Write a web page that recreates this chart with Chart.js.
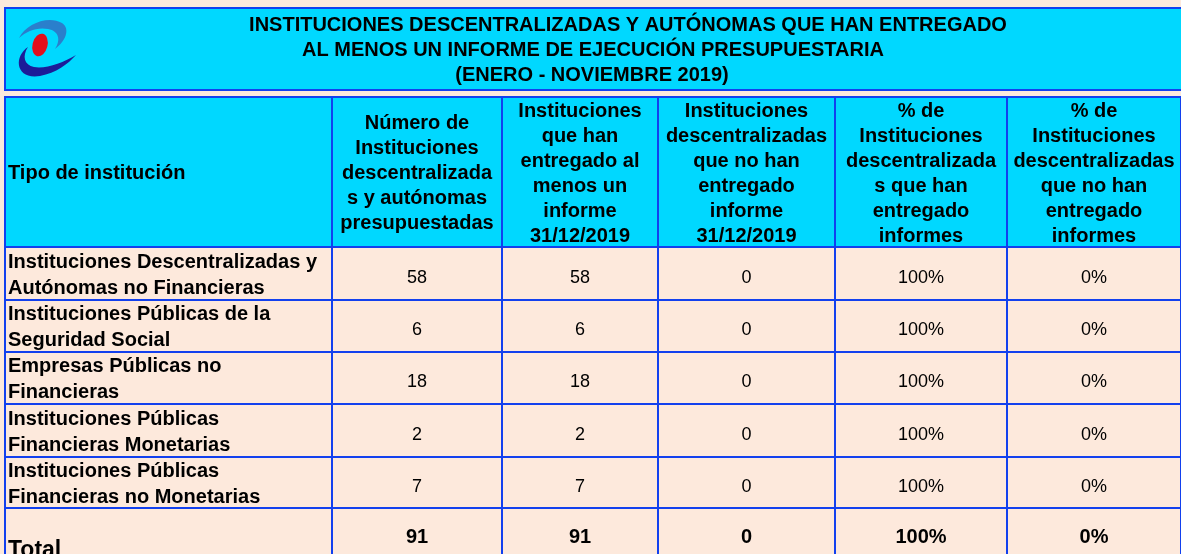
<!DOCTYPE html>
<html>
<head>
<meta charset="utf-8">
<script src="https://cdn.jsdelivr.net/npm/chart.js@4/dist/chart.umd.min.js"></script>
<style>
  html, body { margin: 0; padding: 0; background: #fde9dc; }
  canvas { display: block; }
</style>
</head>
<body>
<canvas id="tabla" width="1181" height="554"></canvas>
<script>
// datos de la tabla
const titulo = [
    'INSTITUCIONES DESCENTRALIZADAS Y AUTÓNOMAS QUE HAN ENTREGADO',
    'AL MENOS UN INFORME DE EJECUCIÓN PRESUPUESTARIA',
    '(ENERO - NOVIEMBRE 2019)'
];
const encabezados = [
    ['Tipo de institución'],
    ['Número de', 'Instituciones', 'descentralizada', 's y autónomas', 'presupuestadas'],
    ['Instituciones', 'que han', 'entregado al', 'menos un', 'informe', '31/12/2019'],
    ['Instituciones', 'descentralizadas', 'que no han', 'entregado', 'informe', '31/12/2019'],
    ['% de', 'Instituciones', 'descentralizada', 's que han', 'entregado', 'informes'],
    ['% de', 'Instituciones', 'descentralizadas', 'que no han', 'entregado', 'informes']
];
const tipos = [
    ['Instituciones Descentralizadas y', 'Autónomas no Financieras'],
    ['Instituciones Públicas de la', 'Seguridad Social'],
    ['Empresas Públicas no', 'Financieras'],
    ['Instituciones Públicas', 'Financieras Monetarias'],
    ['Instituciones Públicas', 'Financieras no Monetarias']
];
const presupuestadas = [58, 6, 18, 2, 7];
const entregaron = [58, 6, 18, 2, 7];
const noEntregaron = [0, 0, 0, 0, 0];
const pctEntregaron = [100, 100, 100, 100, 100];
const pctNoEntregaron = [0, 0, 0, 0, 0];
const totales = [91, 91, 0, 100, 0];

// disposicion (en unidades de las escalas)
const colBordes = [5, 332, 502, 658, 835, 1007, 1181];
const filaBordes = [97, 247, 300, 352, 404, 457, 508, 580];
const tituloArriba = 8, tituloAbajo = 90;
const tituloCentros = [628, 593, 592];

const AZUL = '#1240ee';
const CIAN = '#00d8ff';
const FUENTE = '"Liberation Sans", Arial, sans-serif';

function logo(ctx, X, Y) {
    // arco superior (azul claro)
    ctx.fillStyle = '#2a7fcc';
    ctx.beginPath();
    ctx.moveTo(X(19), Y(38));
    ctx.bezierCurveTo(X(26), Y(24), X(48), Y(15), X(62), Y(23));
    ctx.bezierCurveTo(X(71), Y(29), X(65), Y(42), X(55), Y(49));
    ctx.bezierCurveTo(X(61), Y(40), X(59), Y(31), X(48), Y(29));
    ctx.bezierCurveTo(X(37), Y(27), X(27), Y(31), X(19), Y(38));
    ctx.closePath();
    ctx.fill();
    // arco inferior (azul oscuro)
    ctx.fillStyle = '#1c1c98';
    ctx.beginPath();
    ctx.moveTo(X(28), Y(47));
    ctx.bezierCurveTo(X(13), Y(57), X(16), Y(80), X(40), Y(76));
    ctx.bezierCurveTo(X(56), Y(73), X(68), Y(64), X(76), Y(55));
    ctx.bezierCurveTo(X(63), Y(63), X(46), Y(69), X(34), Y(67));
    ctx.bezierCurveTo(X(24), Y(65), X(22), Y(56), X(28), Y(47));
    ctx.closePath();
    ctx.fill();
    // punto rojo
    ctx.fillStyle = '#e30f1c';
    ctx.beginPath();
    ctx.ellipse(X(40), Y(45), 7.5, 11.5, 0.25, 0, Math.PI * 2);
    ctx.fill();
}

const tablaPlugin = {
    id: 'tabla',
    afterDraw(chart) {
        const ctx = chart.ctx;
        const sx = chart.scales.x, sy = chart.scales.y;
        const X = v => sx.getPixelForValue(v);
        const Y = v => sy.getPixelForValue(v);
        const izq = X(colBordes[0]), der = X(colBordes[colBordes.length - 1]);

        ctx.save();
        // titulo
        ctx.fillStyle = CIAN;
        ctx.fillRect(izq, Y(tituloArriba), der + 10 - izq, Y(tituloAbajo) - Y(tituloArriba));
        ctx.strokeStyle = AZUL;
        ctx.lineWidth = 2;
        ctx.strokeRect(izq, Y(tituloArriba), der + 10 - izq, Y(tituloAbajo) - Y(tituloArriba));
        logo(ctx, X, Y);

        ctx.fillStyle = '#000';
        ctx.textAlign = 'center';
        ctx.textBaseline = 'alphabetic';
        ctx.font = 'bold 20px ' + FUENTE;
        titulo.forEach((t, i) => ctx.fillText(t, X(tituloCentros[i]), Y(31 + i * 25)));

        // encabezado
        ctx.fillStyle = CIAN;
        ctx.fillRect(izq, Y(filaBordes[0]), der + 10 - izq, Y(filaBordes[1]) - Y(filaBordes[0]));

        // lineas
        ctx.strokeStyle = AZUL;
        ctx.lineWidth = 2;
        ctx.beginPath();
        filaBordes.forEach(f => { ctx.moveTo(izq - 1, Y(f)); ctx.lineTo(der + 10, Y(f)); });
        colBordes.forEach(c => { ctx.moveTo(X(c), Y(filaBordes[0])); ctx.lineTo(X(c), Y(filaBordes[filaBordes.length - 1])); });
        ctx.stroke();

        // textos del encabezado
        ctx.fillStyle = '#000';
        ctx.font = 'bold 20px ' + FUENTE;
        const hc = (filaBordes[0] + filaBordes[1]) / 2;
        encabezados.forEach((lineas, c) => {
            const n = lineas.length;
            lineas.forEach((l, k) => {
                const yb = hc - (n - 1) * 25 / 2 + 7 + k * 25;
                if (c === 0) {
                    ctx.textAlign = 'left';
                    ctx.fillText(l, X(colBordes[0] + 3), Y(yb));
                } else {
                    ctx.textAlign = 'center';
                    ctx.fillText(l, X((colBordes[c] + colBordes[c + 1]) / 2), Y(yb));
                }
            });
        });

        // filas de datos
        const columnas = [presupuestadas, entregaron, noEntregaron, pctEntregaron, pctNoEntregaron];
        const esPct = [false, false, false, true, true];
        tipos.forEach((lineas, r) => {
            const cy = (filaBordes[r + 1] + filaBordes[r + 2]) / 2;
            ctx.font = 'bold 20px ' + FUENTE;
            ctx.textAlign = 'left';
            lineas.forEach((l, k) => ctx.fillText(l, X(colBordes[0] + 3), Y(cy - 13 + 7 + k * 26)));
            ctx.font = '18px ' + FUENTE;
            ctx.textAlign = 'center';
            columnas.forEach((serie, c) => {
                const txt = serie[r] + (esPct[c] ? '%' : '');
                ctx.fillText(txt, X((colBordes[c + 1] + colBordes[c + 2]) / 2), Y(cy + 9));
            });
        });

        // total
        const ft = filaBordes.length - 2;
        ctx.font = 'bold 23px ' + FUENTE;
        ctx.textAlign = 'left';
        ctx.fillText('Total', X(colBordes[0] + 3), Y(557));
        ctx.font = 'bold 20px ' + FUENTE;
        ctx.textAlign = 'center';
        totales.forEach((v, c) => {
            const txt = v + (esPct[c] ? '%' : '');
            ctx.fillText(txt, X((colBordes[c + 1] + colBordes[c + 2]) / 2), Y(filaBordes[ft] + 35));
        });
        ctx.restore();
    }
};

var ctx = document.getElementById('tabla').getContext('2d');
var chart = new Chart(ctx, {
    type: 'scatter',
    data: { datasets: [{ data: [] }] },
    options: {
        responsive: false,
        animation: false,
        devicePixelRatio: 1,
        layout: { padding: 0 },
        plugins: { legend: { display: false }, tooltip: { enabled: false } },
        scales: {
            x: { type: 'linear', min: 0, max: 1181, display: false },
            y: { type: 'linear', min: 0, max: 554, reverse: true, display: false }
        }
    },
    plugins: [tablaPlugin]
});
</script>
</body>
</html>
